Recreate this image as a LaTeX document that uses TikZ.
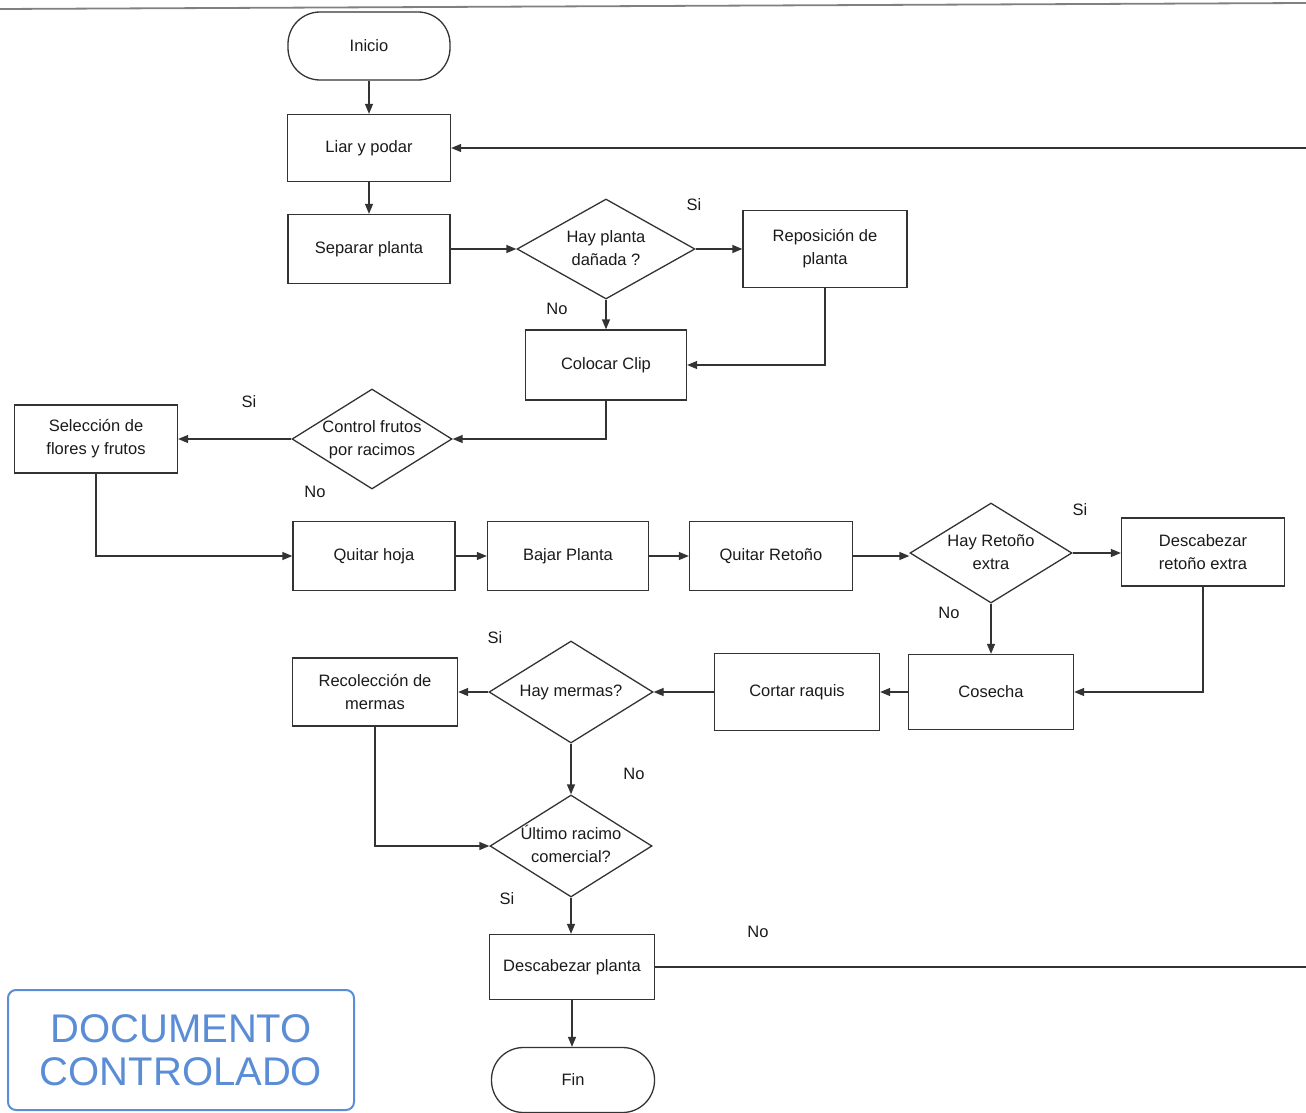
\documentclass[tikz,border=0pt]{standalone}
\usepackage{fontspec}
\setmainfont{Liberation Sans}
\usetikzlibrary{shapes.geometric,arrows.meta}
\definecolor{linec}{HTML}{333333}
\definecolor{textc}{HTML}{1A1A1A}
\definecolor{stampblue}{HTML}{5B8DD6}
\newcommand\flowfont{\fontsize{16.5}{23}\selectfont}
\newcommand\dtext[1]{\makebox[0pt]{\begin{tabular}{@{}c@{}}#1\end{tabular}}}
\begin{document}
\begin{tikzpicture}[x=1pt,y=-1pt,
  line/.style={draw=linec, line width=1.3pt},
  arr/.style={line, -{Triangle[length=10pt,width=8pt]}},
  box/.style={draw=linec, line width=1.3pt, rectangle, minimum width=163pt, minimum height=69pt, font=\flowfont, text=textc, align=center, inner sep=0pt},
  term/.style={box, rounded corners=32pt},
  dia/.style={draw=linec, line width=1.3pt, diamond, minimum width=162pt, minimum height=100pt, inner sep=0pt, font=\flowfont, text=textc},
  lbl/.style={font=\flowfont, text=textc, inner sep=0pt},
]
\useasboundingbox (0,0) rectangle (1306,1113);
% top rule
\draw[draw=gray, line width=1.8pt] (0,9) -- (1306,3);

% nodes
\node[term, minimum width=162pt, minimum height=68pt] (inicio) at (369,46) {Inicio};
\node[box, minimum height=67pt] (liar) at (369,148) {Liar y podar};
\node[box, minimum width=162pt] (sep) at (369,249) {Separar planta};
\node[dia, minimum width=178pt] (d1) at (606,249) {\dtext{Hay planta\\dañada ?}};
\node[box, minimum width=164pt, minimum height=77pt] (repo) at (825,249) {Reposición de\\planta};
\node[box, minimum width=161pt, minimum height=70pt] (clip) at (606,365) {Colocar Clip};
\node[dia, minimum width=160pt] (ctrl) at (372,439) {\dtext{Control frutos\\por racimos}};
\node[box, minimum height=68pt] (sel) at (96,439) {Selección de\\flores y frutos};
\node[box, minimum width=162pt] (qhoja) at (374,556) {Quitar hoja};
\node[box, minimum width=161pt] (bajar) at (568,556) {Bajar Planta};
\node[box] (qret) at (771,556) {Quitar Retoño};
\node[dia] (d2) at (991,553) {\dtext{Hay Retoño\\extra}};
\node[box, minimum height=68pt] (dret) at (1203,552) {Descabezar\\retoño extra};
\node[box, minimum width=165pt, minimum height=75pt] (cosecha) at (991,692) {Cosecha};
\node[box, minimum width=165pt, minimum height=77pt] (cortar) at (797,692) {Cortar raquis};
\node[dia, minimum width=164pt, minimum height=102pt] (mermas) at (571,692) {\dtext{Hay mermas?}};
\node[box, minimum width=165pt, minimum height=68pt] (recol) at (375,692) {Recolección de\\mermas};
\node[dia, minimum height=102pt] (ultimo) at (571,846) {\dtext{Último racimo\\comercial?}};
\node[box, minimum width=165pt, minimum height=65pt] (dplanta) at (572,967) {Descabezar planta};
\node[term, minimum height=65pt] (fin) at (573,1080) {Fin};

% labels
\node[lbl] (l1) at (694,205) {Si};
\node[lbl] (l2) at (557,309) {No};
\node[lbl] (l3) at (249,402) {Si};
\node[lbl] (l4) at (315,492) {No};
\node[lbl] (l5) at (1080,510) {Si};
\node[lbl] (l6) at (949,613) {No};
\node[lbl] (l7) at (495,638) {Si};
\node[lbl] (l8) at (634,774) {No};
\node[lbl] (l9) at (507,899) {Si};
\node[lbl] (l10) at (758,932) {No};

% stamp
\node[draw=stampblue, line width=2pt, rounded corners=8pt, minimum width=346pt, minimum height=120pt, text=stampblue, font=\fontsize{40}{43}\selectfont, align=center, inner sep=0pt] (stamp) at (181,1050) {DOCUMENTO\\CONTROLADO};

% connectors
\coordinate (rt) at (1310,0);
\draw[arr] (inicio.south) -- (liar.north);
\draw[arr] (liar.south) -- (sep.north);
\draw[arr] (sep.east) -- (d1.west);
\draw[arr] (d1.east) -- (repo.west);
\draw[arr] (d1.south) -- (clip.north);
\draw[arr] (repo.south) |- (clip.east);
\draw[arr] (clip.south) |- (ctrl.east);
\draw[arr] (ctrl.west) -- (sel.east);
\draw[arr] (sel.south) |- (qhoja.west);
\draw[arr] (qhoja.east) -- (bajar.west);
\draw[arr] (bajar.east) -- (qret.west);
\draw[arr] (qret.east) -- (qret.east -| d2.west);
\draw[arr] (d2.east) -- (d2.east -| dret.west);
\draw[arr] (d2.south) -- (cosecha.north);
\draw[arr] (dret.south) |- (cosecha.east);
\draw[arr] (cosecha.west) -- (cortar.east);
\draw[arr] (cortar.west) -- (mermas.east);
\draw[arr] (mermas.west) -- (recol.east);
\draw[arr] (mermas.south) -- (ultimo.north);
\draw[arr] (recol.south) |- (ultimo.west);
\draw[arr] (ultimo.south) -- (ultimo.south |- dplanta.north);
\draw[arr] (dplanta.east) -- (dplanta.east -| rt) -- (liar.east -| rt) -- (liar.east);
\draw[arr] (dplanta.south) -- (dplanta.south |- fin.north);
\end{tikzpicture}
\end{document}
